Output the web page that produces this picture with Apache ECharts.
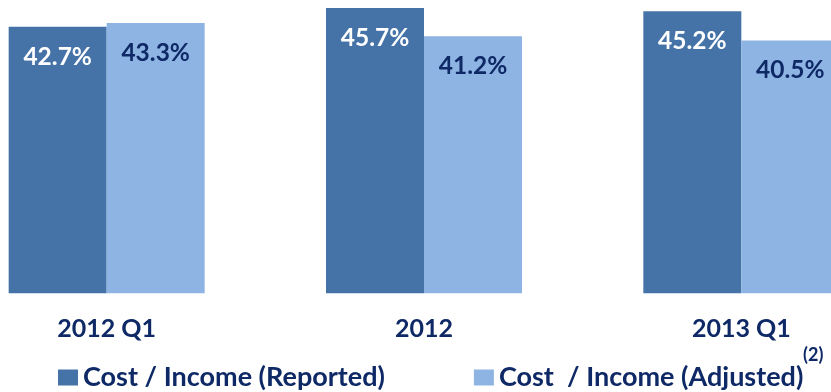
<!DOCTYPE html>
<html>
<head>
<meta charset="utf-8">
<script src="https://cdn.jsdelivr.net/npm/echarts@6/dist/echarts.min.js"></script>
<style>html,body{margin:0;padding:0;background:#fff;overflow:hidden;width:831px;height:392px}
#c{position:absolute;left:-52px;top:0;width:952px;height:392px}</style>
</head>
<body>
<div id="c"></div>
<script>
var categories = ['2012 Q1', '2012', '2013 Q1'];
var seriesNames = ['Cost / Income (Reported)', 'Cost  / Income (Adjusted)'];
var reported = [42.7, 45.7, 45.2];
var adjusted = [43.3, 41.2, 40.5];
var footnote = '(2)';

var navy = '#0E2966';
var off = 52;
var chart = echarts.init(document.getElementById('c'), null, {renderer: 'canvas'});
var font = 'Lato';
function lbl(color) {
  return {
    show: true, position: 'insideTop', distance: 18,
    formatter: function (p) { return p.value.toFixed(1) + '%'; },
    color: color, fontFamily: font, fontWeight: 'bold', fontSize: 24.5, lineHeight: 24
  };
}
chart.setOption({
  animation: false,
  grid: {left: 0, right: 0, top: 0, bottom: 98.7, containLabel: false},
  xAxis: {
    type: 'category', data: categories,
    axisLine: {show: false}, axisTick: {show: false},
    axisLabel: {color: navy, fontFamily: font, fontWeight: 'bold', fontSize: 25, margin: 23}
  },
  yAxis: {type: 'value', min: 0, max: 47, show: false, splitLine: {show: false}},
  legend: {
    left: 58 + off, top: 359, itemWidth: 20, itemHeight: 16, itemGap: 89,
    icon: 'rect', padding: [5, 5, 5, 0],
    textStyle: {color: navy, fontFamily: font, fontWeight: 'bold', fontSize: 27}
  },
  graphic: [{
    type: 'text', left: 803 + off, top: 346,
    style: {text: footnote, fill: navy, font: 'bold 18px Lato'}
  }],
  series: [
    {name: seriesNames[0], type: 'bar', data: reported, barWidth: 98, barGap: '0%',
     itemStyle: {color: '#4673A7'}, label: lbl('#ffffff')},
    {name: seriesNames[1], type: 'bar', data: adjusted, barWidth: 98, barGap: '0%',
     itemStyle: {color: '#8EB4E3'}, label: lbl(navy)}
  ]
});
</script>
</body>
</html>
